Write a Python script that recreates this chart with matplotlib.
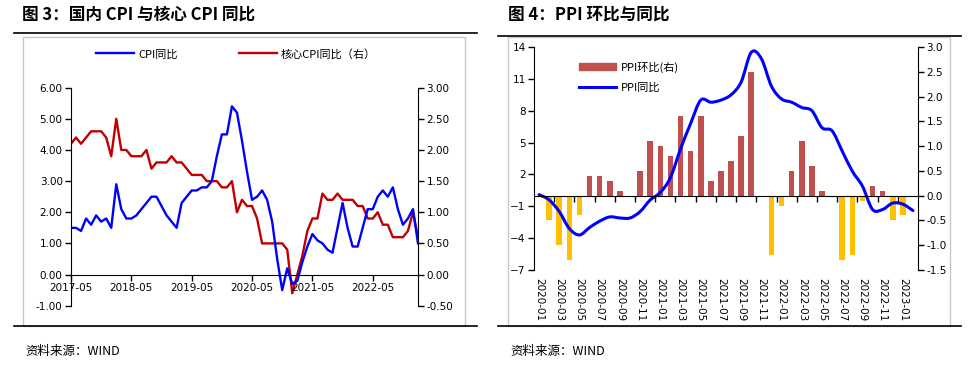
import numpy as np
import pandas as pd
import matplotlib
matplotlib.use("Agg")
from matplotlib import pyplot as plt
from matplotlib.path import Path
from matplotlib.patches import PathPatch, Rectangle, Patch
from matplotlib.lines import Line2D

CJK = ["Noto Sans CJK SC", "DejaVu Sans"]

# ---- data: CPI (2017-05 .. 2023-02)
cpi_months = pd.period_range("2017-05", "2023-02", freq="M").strftime("%Y-%m").tolist()
cpi_yoy = [1.5, 1.5, 1.4, 1.8, 1.6, 1.9, 1.7, 1.8,
           1.5, 2.9, 2.1, 1.8, 1.8, 1.9, 2.1, 2.3, 2.5, 2.5, 2.2, 1.9,
           1.7, 1.5, 2.3, 2.5, 2.7, 2.7, 2.8, 2.8, 3.0, 3.8, 4.5, 4.5,
           5.4, 5.2, 4.3, 3.3, 2.4, 2.5, 2.7, 2.4, 1.7, 0.5, -0.5, 0.2,
           -0.3, -0.2, 0.4, 0.9, 1.3, 1.1, 1.0, 0.8, 0.7, 1.5, 2.3, 1.5,
           0.9, 0.9, 1.5, 2.1, 2.1, 2.5, 2.7, 2.5, 2.8, 2.1, 1.6, 1.8,
           2.1, 1.0]
core_cpi_yoy = [2.1, 2.2, 2.1, 2.2, 2.3, 2.3, 2.3, 2.2,
                1.9, 2.5, 2.0, 2.0, 1.9, 1.9, 1.9, 2.0, 1.7, 1.8, 1.8, 1.8,
                1.9, 1.8, 1.8, 1.7, 1.6, 1.6, 1.6, 1.5, 1.5, 1.5, 1.4, 1.4,
                1.5, 1.0, 1.2, 1.1, 1.1, 0.9, 0.5, 0.5, 0.5, 0.5, 0.5, 0.4,
                -0.3, 0.0, 0.3, 0.7, 0.9, 0.9, 1.3, 1.2, 1.2, 1.3, 1.2, 1.2,
                1.2, 1.1, 1.1, 0.9, 0.9, 1.0, 0.8, 0.8, 0.6, 0.6, 0.6, 0.7,
                1.0, 0.6]

# ---- data: PPI (2020-01 .. 2023-02)
ppi_months = pd.period_range("2020-01", "2023-02", freq="M").strftime("%Y-%m").tolist()
ppi_yoy = [0.1, -0.4, -1.5, -3.1, -3.7, -3.0, -2.4, -2.0, -2.1, -2.1, -1.5, -0.4,
           0.3, 1.7, 4.4, 6.8, 9.0, 8.8, 9.0, 9.5, 10.7, 13.5, 12.9, 10.3,
           9.1, 8.8, 8.3, 8.0, 6.4, 6.1, 4.2, 2.3, 0.9, -1.3, -1.3, -0.7,
           -0.8, -1.4]
ppi_mom = [0.0, -0.5, -1.0, -1.3, -0.4, 0.4, 0.4, 0.3, 0.1, 0.0, 0.5, 1.1,
           1.0, 0.8, 1.6, 0.9, 1.6, 0.3, 0.5, 0.7, 1.2, 2.5, 0.0, -1.2,
           -0.2, 0.5, 1.1, 0.6, 0.1, 0.0, -1.3, -1.2, -0.1, 0.2, 0.1, -0.5,
           -0.4, np.nan]

W, H = 980, 368
fig = plt.figure(figsize=(W / 100, H / 100), dpi=100)


def fx(px):
    return px / W


def fy(py):
    return 1 - py / H


def frame(x0, x1, y_top, box_x0, box_x1):
    fig.add_artist(Line2D([fx(x0), fx(x1)], [fy(y_top), fy(y_top)], color="black", lw=1.2))
    fig.add_artist(Rectangle((fx(box_x0), fy(326)), fx(box_x1 - box_x0), (326 - 37) / H,
                             fill=False, edgecolor="#c8c8c8", lw=1.0))
    fig.add_artist(Line2D([fx(x0), fx(x1)], [fy(326), fy(326)], color="black", lw=1.2))


frame(14, 477, 33, 23, 465)
frame(498, 961, 35.7, 508, 950)

fig.text(fx(22), fy(15), "图 3：国内 CPI 与核心 CPI 同比", family=CJK, fontsize=12,
         fontweight="bold", va="center", ha="left")
fig.text(fx(508), fy(15), "图 4：PPI 环比与同比", family=CJK, fontsize=12,
         fontweight="bold", va="center", ha="left")
fig.text(fx(25), fy(351), "资料来源：WIND", family=CJK, fontsize=9, style="italic", va="center")
fig.text(fx(510), fy(351), "资料来源：WIND", family=CJK, fontsize=9, style="italic", va="center")

# ================= left chart
ax = fig.add_axes([fx(71), fy(305.7), fx(418 - 71), (305.7 - 87.7) / H])
axr = ax.twinx()
x = np.arange(len(cpi_months))
l1, = ax.plot(x, cpi_yoy, color="#0000ff", lw=1.7, label="CPI同比")
l2, = axr.plot(x, core_cpi_yoy, color="#c00000", lw=1.7, label="核心CPI同比（右）")
ax.set_zorder(axr.get_zorder() + 1)
ax.patch.set_visible(False)

ax.set_xlim(0, len(cpi_months) - 1)
ax.set_ylim(-1, 6)
axr.set_ylim(-0.5, 3.0)
ax.set_yticks(np.arange(-1, 6.01, 1))
axr.set_yticks(np.arange(-0.5, 3.01, 0.5))
ax.yaxis.set_major_formatter(matplotlib.ticker.FormatStrFormatter("%.2f"))
axr.yaxis.set_major_formatter(matplotlib.ticker.FormatStrFormatter("%.2f"))
ax.set_xticks(x[::12])
ax.set_xticklabels(cpi_months[::12])
for a in (ax, axr):
    a.spines["top"].set_visible(False)
    a.tick_params(labelsize=7.5, length=4, width=1, direction="out", pad=2)
ax.spines["bottom"].set_position(("data", 0))
axr.spines["bottom"].set_visible(False)
ax.spines["right"].set_visible(False)
axr.spines["left"].set_visible(False)

fig.legend(handles=[l1, l2], loc="center", bbox_to_anchor=(fx(236), fy(54)), ncol=2,
           frameon=False, prop={"family": CJK, "size": 8}, handlelength=3.4,
           columnspacing=5.5, handletextpad=0.4)

# ================= right chart
bx = fig.add_axes([fx(534), fy(270), fx(918 - 534), (270 - 47) / H])
bxr = bx.twinx()
xp = np.arange(len(ppi_months))
mom = np.array(ppi_mom)
colors = ["#c0504d" if v >= 0 else "#ffc000" for v in np.nan_to_num(mom)]
bxr.bar(xp, mom, width=0.55, color=colors)

# smooth line (Catmull-Rom -> cubic Bezier) like the spreadsheet's smoothed line
pts = np.column_stack([xp, ppi_yoy]).astype(float)
ext = np.vstack([pts[0], pts, pts[-1]])
verts = [tuple(pts[0])]
codes = [Path.MOVETO]
for i in range(1, len(ext) - 2):
    p0, p1, p2, p3 = ext[i - 1], ext[i], ext[i + 1], ext[i + 2]
    c1 = p1 + (p2 - p0) / 6
    c2 = p2 - (p3 - p1) / 6
    verts += [tuple(c1), tuple(c2), tuple(p2)]
    codes += [Path.CURVE4] * 3
bx.add_patch(PathPatch(Path(verts, codes), fill=False, edgecolor="#0000ff", lw=2.2,
                       capstyle="round", joinstyle="round"))
bx.set_zorder(bxr.get_zorder() + 1)
bx.patch.set_visible(False)

bx.set_xlim(-0.5, len(ppi_months) - 0.5)
bx.set_ylim(-7, 14)
bxr.set_ylim(-1.5, 3.0)
bx.set_yticks(np.arange(-7, 14.1, 3))
bxr.set_yticks(np.arange(-1.5, 3.01, 0.5))
bxr.yaxis.set_major_formatter(matplotlib.ticker.FormatStrFormatter("%.1f"))
bx.set_xticks(xp[1:-1:2] + 0.5)
bx.tick_params(axis="x", labelbottom=False)
for a in (bx, bxr):
    a.spines["top"].set_visible(False)
    a.tick_params(labelsize=7.5, length=4, width=1, direction="out", pad=2)
bx.spines["bottom"].set_position(("data", 0))
bxr.spines["bottom"].set_visible(False)
bx.spines["right"].set_visible(False)
bxr.spines["left"].set_visible(False)
for i in xp[::2]:
    bx.text(i, -0.035, ppi_months[i], transform=bx.get_xaxis_transform(), rotation=-90,
            ha="center", va="top", fontsize=7.5)

bx.legend(handles=[Patch(color="#c0504d", label="PPI环比(右)"),
                   Line2D([], [], color="#0000ff", lw=2.2, label="PPI同比")],
          loc="upper left", bbox_to_anchor=(0.09, 0.98), frameon=False,
          prop={"family": CJK, "size": 8}, handlelength=3.4, handleheight=0.6,
          handletextpad=0.4, labelspacing=0.9)

fig.savefig("out.png", dpi=100)
